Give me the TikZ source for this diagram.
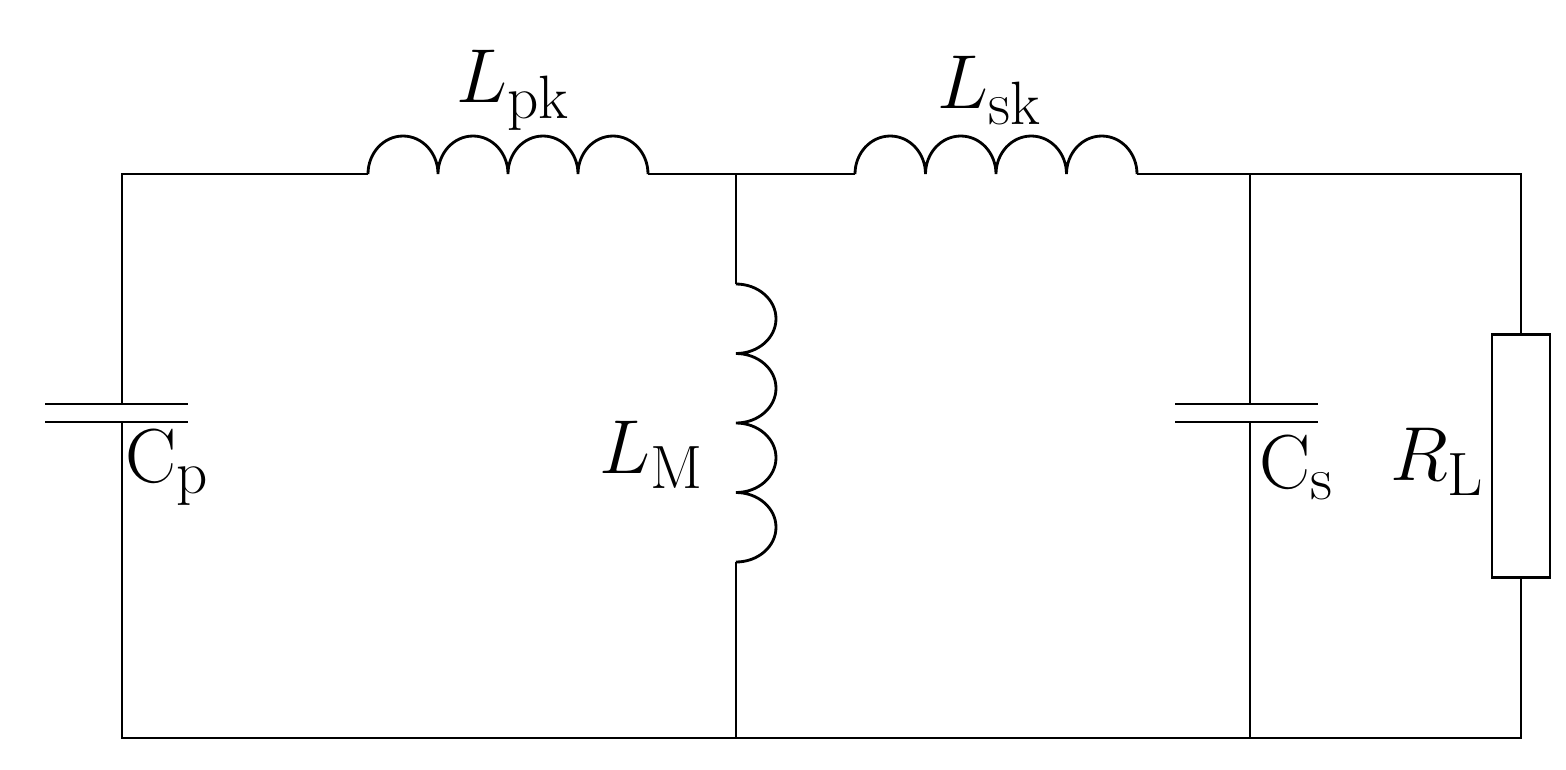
\documentclass[tikz,border=0pt]{standalone}
\usepackage{graphicx}
\newcommand{\lab}[2]{\scalebox{2.1}{$#1_{\scalebox{0.8}{$\mathrm{#2}$}}$}}
\begin{document}
\begin{tikzpicture}[x=0.02cm,y=-0.02cm,line width=1.6pt,
 lbl/.style={font=\huge,inner sep=0pt}]
\useasboundingbox (0,0) rectangle (1566,769);
\coordinate (tl) at (122,174); \coordinate (bl) at (122,738);
\coordinate (j1) at (736,174); \coordinate (j1b) at (736,738);
\coordinate (j2) at (1250,174); \coordinate (j2b) at (1250,738);
\coordinate (tr) at (1521,174); \coordinate (br) at (1521,738);
\coordinate (a1) at (368,174); \coordinate (a2) at (648,174);
\coordinate (b1) at (855,174); \coordinate (b2) at (1137,174);
\coordinate (m1) at (736,284); \coordinate (m2) at (736,562);
\coordinate (cp1) at (122,404); \coordinate (cp2) at (122,422);
\coordinate (cs1) at (1250,404); \coordinate (cs2) at (1250,422);
\node[draw,minimum width=1.16cm,minimum height=4.86cm,inner sep=0pt] (R) at (1521,456) {};
\draw (cp1) -- (tl) -- (a1);
\draw (a2) -- (j1) -- (b1);
\draw (b2) -- (j2) -- (tr) -- (R.north);
\draw (R.south) -- (br) -- (bl) -- (cp2);
\draw (j1) -- (m1); \draw (m2) -- (j1b);
\draw (j2) -- (cs1); \draw (cs2) -- (j2b);
\draw (45,404) -- (188,404); \draw (45,422) -- (188,422);
\draw (1175,404) -- (1318,404); \draw (1175,422) -- (1318,422);
\draw (a1) arc[start angle=180,end angle=0,x radius=35,y radius=-38]
 arc[start angle=180,end angle=0,x radius=35,y radius=-38]
 arc[start angle=180,end angle=0,x radius=35,y radius=-38]
 arc[start angle=180,end angle=0,x radius=35,y radius=-38];
\draw (b1) arc[start angle=180,end angle=0,x radius=35.25,y radius=-38]
 arc[start angle=180,end angle=0,x radius=35.25,y radius=-38]
 arc[start angle=180,end angle=0,x radius=35.25,y radius=-38]
 arc[start angle=180,end angle=0,x radius=35.25,y radius=-38];
\draw (m1) arc[start angle=90,end angle=-90,x radius=40,y radius=-34.75]
 arc[start angle=90,end angle=-90,x radius=40,y radius=-34.75]
 arc[start angle=90,end angle=-90,x radius=40,y radius=-34.75]
 arc[start angle=90,end angle=-90,x radius=40,y radius=-34.75];
\node[lbl] (lpk) at (513,90) {\lab{L}{pk}};
\node[lbl] (lsk) at (990,90) {\lab{L}{sk}};
\node[lbl] (lcp) at (168,468) {\lab{\mathrm{C}}{p}};
\node[lbl] (llm) at (652,455) {\lab{L}{M}};
\node[lbl] (lcs) at (1297,468) {\lab{\mathrm{C}}{s}};
\node[lbl] (lrl) at (1438,462) {\lab{R}{L}};
\end{tikzpicture}
\end{document}
